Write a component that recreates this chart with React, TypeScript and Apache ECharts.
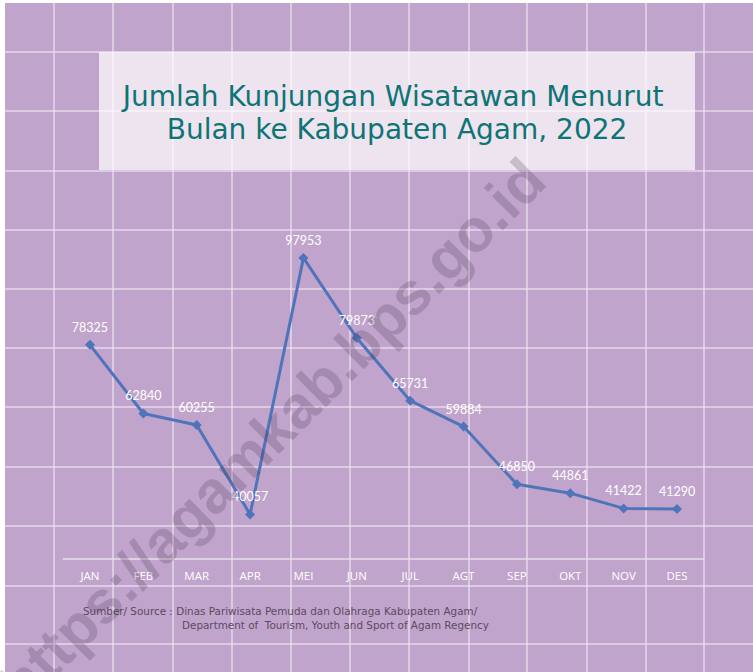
import React, { useEffect, useRef } from "react";
import * as echarts from "echarts";

const months = ["JAN", "FEB", "MAR", "APR", "MEI", "JUN", "JUL", "AGT", "SEP", "OKT", "NOV", "DES"];
const visitors = [78325, 62840, 60255, 40057, 97953, 79873, 65731, 59884, 46850, 44861, 41422, 41290];
const titleLines = ["Jumlah Kunjungan Wisatawan Menurut", "Bulan ke Kabupaten Agam, 2022"];
const sourceLines = [
  "Sumber/ Source : Dinas Pariwisata Pemuda dan Olahraga Kabupaten Agam/",
  "Department of  Tourism, Youth and Sport of Agam Regency",
];
const watermark = "https://agamkab.bps.go.id";

const W = 753;
const H = 672;
const gridXs = [54, 113, 173, 232, 291, 350, 409, 469, 527, 587, 646, 704];
const gridYs = [52, 111, 171, 230, 289, 348, 407, 467, 526, 586, 644];

export default function App() {
  const ref = useRef<HTMLDivElement>(null);
  useEffect(() => {
    document.body.style.margin = "0";
    if (!ref.current) return;
    const chart = echarts.init(ref.current, null, { renderer: "svg" });
    const lineColor = "rgba(236,226,240,0.85)";
    const graphics: any[] = [
      { type: "rect", z: -10, shape: { x: 5, y: 3, width: W - 5, height: H - 3 }, style: { fill: "#c1a4cc" }, silent: true },
    ];
    gridXs.forEach((x) =>
      graphics.push({ type: "line", z: -9, shape: { x1: x, y1: 3, x2: x, y2: H }, style: { stroke: lineColor, lineWidth: 1.5 }, silent: true })
    );
    gridYs.forEach((y) =>
      graphics.push({ type: "line", z: -9, shape: { x1: 5, y1: y, x2: W, y2: y }, style: { stroke: lineColor, lineWidth: 1.5 }, silent: true })
    );
    graphics.push({
      type: "rect",
      z: -8,
      shape: { x: 99, y: 52, width: 596, height: 118 },
      style: { fill: "rgba(255,255,255,0.7)" },
      silent: true,
    });
    graphics.push({
      type: "text",
      z: -7,
      x: 393,
      y: 96,
      style: {
        text: titleLines[0],
        fill: "#0e7474",
        font: '28px "DejaVu Sans"',
        textAlign: "center",
        textVerticalAlign: "middle",
      },
    });
    graphics.push({
      type: "text",
      z: -7,
      x: 397,
      y: 129,
      style: {
        text: titleLines[1],
        fill: "#0e7474",
        font: '28px "DejaVu Sans"',
        textAlign: "center",
        textVerticalAlign: "middle",
      },
    });
    graphics.push({
      type: "text",
      z: -7,
      x: 83,
      y: 611,
      style: { text: sourceLines[0], fill: "#5c4a5e", font: '10.4px "DejaVu Sans"', textAlign: "left", textVerticalAlign: "middle" },
    });
    graphics.push({
      type: "text",
      z: -7,
      x: 182,
      y: 625,
      style: { text: sourceLines[1], fill: "#5c4a5e", font: '10.4px "DejaVu Sans"', textAlign: "left", textVerticalAlign: "middle" },
    });
    graphics.push({
      type: "text",
      z: 100,
      x: 272,
      y: 432,
      rotation: Math.PI / 4,
      style: {
        text: watermark,
        fill: "rgba(70,45,75,0.22)",
        font: 'bold 60px "Liberation Sans"',
        textAlign: "center",
        textVerticalAlign: "middle",
      },
      silent: true,
    });

    chart.setOption({
      animation: false,
      backgroundColor: "#ffffff",
      graphic: { elements: graphics },
      grid: { left: 63.3, right: 49.3, top: 204.5, bottom: 113 },
      xAxis: {
        type: "category",
        data: months,
        boundaryGap: true,
        axisLine: { show: true, lineStyle: { color: "#e8deec", width: 1.5 } },
        axisTick: { show: false },
        axisLabel: { color: "#ffffff", fontFamily: "Open Sans", fontSize: 11.5, margin: 10 },
        splitLine: { show: false },
      },
      yAxis: {
        type: "value",
        min: 30000,
        max: 110000,
        show: false,
        splitLine: { show: false },
      },
      series: [
        {
          type: "line",
          data: visitors,
          z: 5,
          symbol: "diamond",
          symbolSize: 10,
          lineStyle: { color: "#4f74ba", width: 3 },
          itemStyle: { color: "#4f74ba" },
          label: {
            show: true,
            position: "top",
            distance: 6,
            color: "#ffffff",
            fontFamily: "Lato",
            fontSize: 12.5,
          },
        },
      ],
    });
    return () => chart.dispose();
  }, []);
  return <div ref={ref} style={{ width: W, height: H }} />;
}
